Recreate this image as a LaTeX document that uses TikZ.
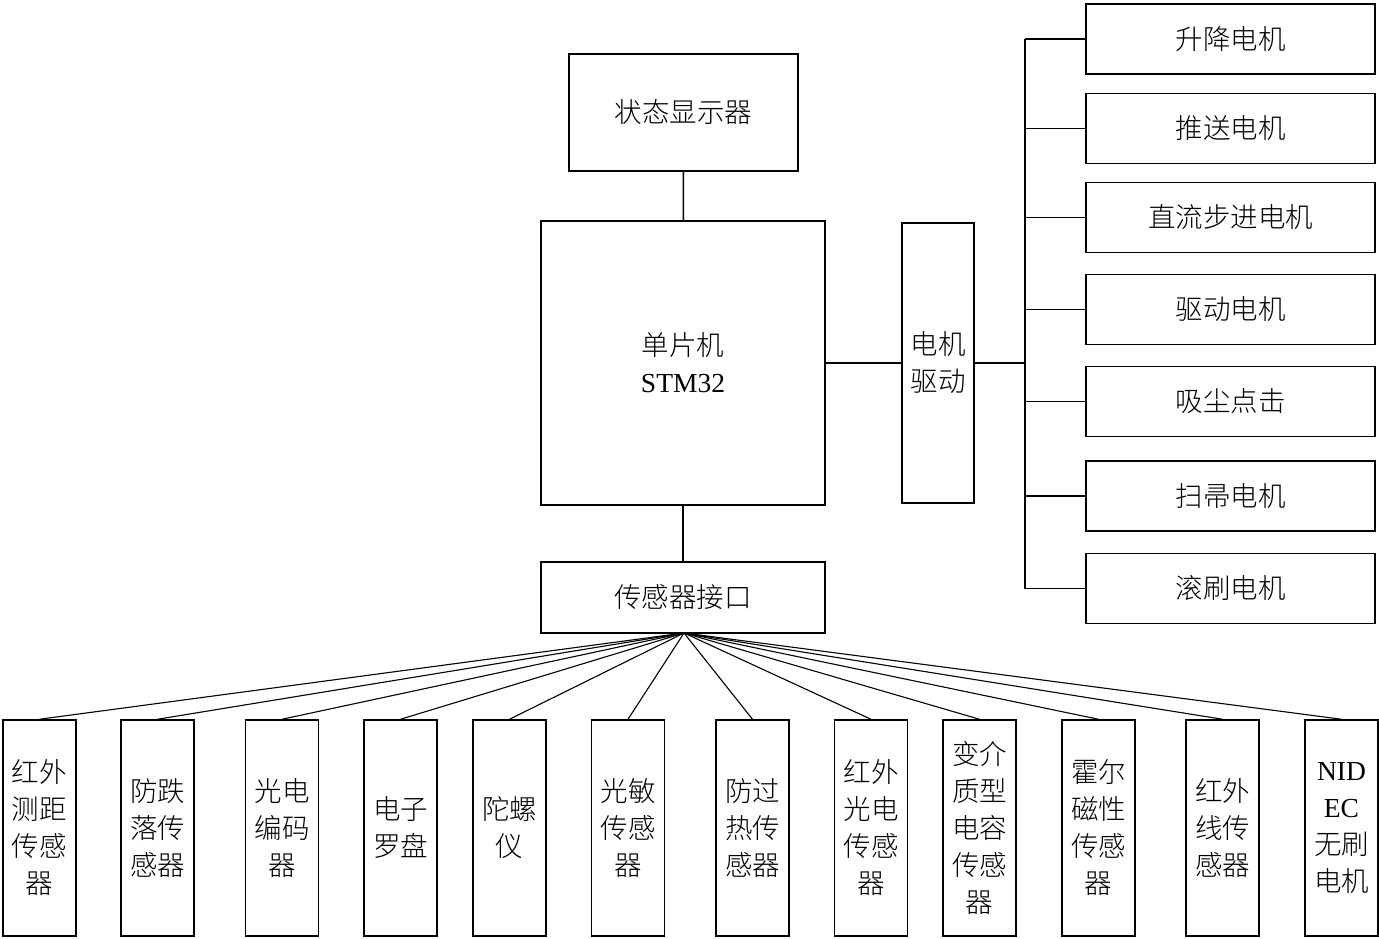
\documentclass[tikz,border=0pt]{standalone}
\usepackage{fontspec}
\setmainfont{Liberation Serif}
\newfontfamily\cjk{Noto Sans CJK SC}[UprightFont=* Light]
\usepackage{tikz}
\usetikzlibrary{positioning}

\begin{document}
\begin{tikzpicture}[x=1pt,y=-1pt,
    box/.style={draw, line width=1.5pt, align=center, inner sep=0pt,
      font=\cjk\fontsize{27.5}{37}\selectfont},
    link/.style={line width=1.5pt},
    fan/.style={line width=1.1pt}]
    \useasboundingbox (0,0) rectangle (1379,939);
    % central part
    \node[box, minimum width=229, minimum height=117] (disp) at (683.5,112.5) {状态显示器};
    \node[box, minimum width=284, minimum height=284] (mcu) at (683,363) {单片机\\{\rmfamily STM32}};
    \node[box, minimum width=72, minimum height=280] (drv) at (938,363) {电机\\驱动};
    \node[box, minimum width=284, minimum height=71] (sif) at (683,597.5) {传感器接口};
    \draw[link] (disp) -- (mcu);
    \draw[link] (mcu) -- (sif);
    \draw[link] (mcu) -- (drv);
    % motors
    \coordinate (bustop) at (1025,39);
    \coordinate (busbot) at (1025,588.5);
    \coordinate (busmid) at (1025,363);
    \draw[link] (bustop) -- (busbot);
    \draw[link] (drv) -- (busmid);
    \foreach \i/\y/\txt in {1/39/升降电机,2/128.5/推送电机,3/217.5/直流步进电机,4/309.5/驱动电机,
        5/401.5/吸尘点击,6/496/扫帚电机,7/588.5/滚刷电机} {
      \node[box, minimum width=289, minimum height=70] (mot\i) at (1230.5,\y) {\txt};
      \draw[link] (mot\i.west) -- (1025,\y);
    }
    % sensors
    \coordinate (fanorg) at (684,633);
    \foreach \i/\x/\txt in {1/39.5/红外\\测距\\传感\\器,2/157.5/防跌\\落传\\感器,3/282/光电\\编码\\器,
        4/400.5/电子\\罗盘,5/509.5/陀螺\\仪,6/628/光敏\\传感\\器,7/752.5/防过\\热传\\感器,
        8/871/红外\\光电\\传感\\器,9/979.5/变介\\质型\\电容\\传感\\器,10/1098.5/霍尔\\磁性\\传感\\器,
        11/1222.5/红外\\线传\\感器,12/1341.5/{\rmfamily NID}\\{\rmfamily EC}\\无刷\\电机} {
      \node[box, minimum width=73, minimum height=216] (sen\i) at (\x,828) {\txt};
      \draw[fan] (fanorg) -- (sen\i.north);
    }
\end{tikzpicture}
\end{document}
